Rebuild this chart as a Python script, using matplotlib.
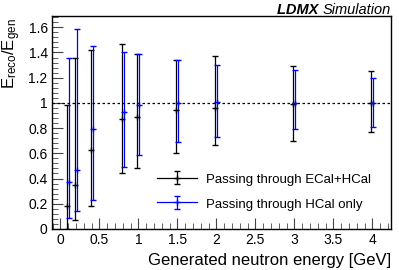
import numpy as np
import matplotlib
matplotlib.use("Agg")
import matplotlib.pyplot as plt
from matplotlib.ticker import MultipleLocator

plt.rcParams['font.family'] = ['Liberation Sans', 'DejaVu Sans']

# generated neutron energies [GeV]
energies = [0.1, 0.2, 0.4, 0.8, 1.0, 1.5, 2.0, 3.0, 4.0]

# passing through ECal+HCal: central value, lower edge, upper edge
ecal_mid = [0.18, 0.35, 0.63, 0.87, 0.89, 0.94, 0.96, 0.99, 1.00]
ecal_lo = [0.00, 0.07, 0.18, 0.44, 0.48, 0.60, 0.67, 0.70, 0.77]
ecal_hi = [0.98, 1.36, 1.42, 1.47, 1.39, 1.34, 1.37, 1.29, 1.25]

# passing through HCal only
hcal_mid = [0.37, 0.47, 0.79, 0.93, 0.98, 1.00, 1.01, 1.00, 1.00]
hcal_lo = [0.09, 0.14, 0.23, 0.49, 0.59, 0.69, 0.73, 0.79, 0.81]
hcal_hi = [1.36, 1.59, 1.45, 1.40, 1.39, 1.34, 1.30, 1.26, 1.20]

labels = ['Passing through ECal+HCal', 'Passing through HCal only']

fig = plt.figure(figsize=(3.99, 2.70), dpi=100)
ax = fig.add_axes([0.130, 0.152, 0.850, 0.789])

series = [
    (ecal_mid, ecal_lo, ecal_hi, 'black', -0.012),
    (hcal_mid, hcal_lo, hcal_hi, '#0000ff', 0.012),
]
handles = []
for (mid, lo, hi, col, dx), lab in zip(series, labels):
    x = np.array(energies) + dx
    mid = np.array(mid)
    yerr = [mid - np.array(lo), np.array(hi) - mid]
    ax.errorbar(x, mid, yerr=yerr, fmt='+', color=col, ms=4, mew=1.0,
                elinewidth=0.9, capsize=2.3, capthick=0.9)
    # proxy with a horizontal line for the legend (ROOT "lep" style)
    h = ax.errorbar([np.nan], [np.nan], yerr=[[0.1], [0.1]], fmt='-+',
                    color=col, ms=4, mew=1.0, lw=0.9, elinewidth=0.9,
                    capsize=2.3, capthick=0.9, label=lab)
    handles.append(h)

ax.axhline(1.0, color='black', ls=(0, (2, 2)), lw=0.9)

ax.set_xlim(-0.11, 4.24)
ax.set_ylim(0, 1.69)
ax.xaxis.set_major_locator(MultipleLocator(0.5))
ax.xaxis.set_minor_locator(MultipleLocator(0.1))
ax.yaxis.set_major_locator(MultipleLocator(0.2))
ax.yaxis.set_minor_locator(MultipleLocator(0.04))
ax.xaxis.set_major_formatter(plt.FuncFormatter(lambda v, p: f'{v:g}'))
ax.yaxis.set_major_formatter(plt.FuncFormatter(lambda v, p: f'{v:g}'))
ax.tick_params(which='both', direction='in', top=False, right=False,
               labelsize=10, pad=3, color='#444444')
ax.tick_params(which='major', length=8)
ax.tick_params(which='minor', length=4)
for s in ax.spines.values():
    s.set_linewidth(1)

ax.set_xlabel('Generated neutron energy [GeV]', fontsize=12, loc='right')
ax.set_ylabel(r'$\mathregular{E_{reco}/E_{gen}}$', fontsize=12, loc='top')
ax.yaxis.set_label_coords(-0.085, 0.99)

sim = fig.text(0.98, 0.99, 'Simulation', fontsize=10.5, style='italic',
               ha='right', va='top')
ax.annotate('LDMX ', xy=(0, 0), xycoords=sim, fontsize=10.5,
            fontweight='bold', style='italic', ha='right', va='bottom')

leg = ax.legend(handles=handles, labels=labels, loc='upper left',
                bbox_to_anchor=(0.311, 0.265), frameon=False, fontsize=9.5,
                handlelength=3.0, handletextpad=0.65, labelspacing=0.85,
                borderpad=0, borderaxespad=0, handleheight=1.0)

fig.savefig('out.png', dpi=100)
